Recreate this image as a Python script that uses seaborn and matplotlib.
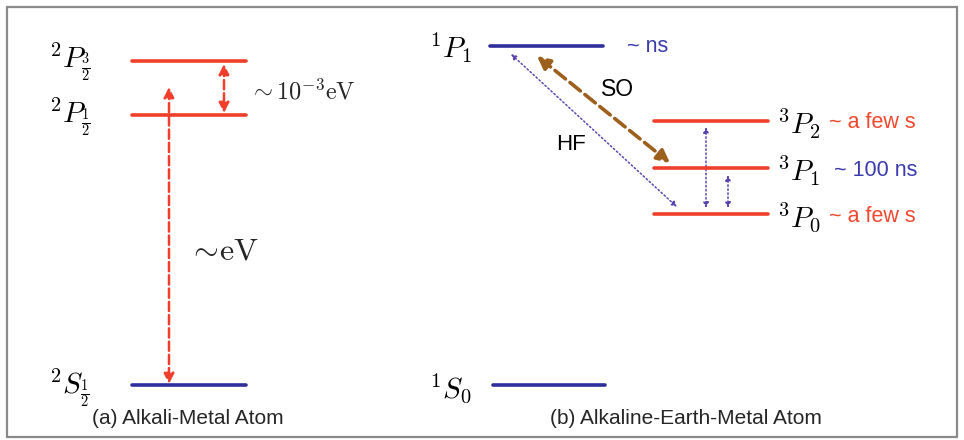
import numpy as np
import pandas as pd
import matplotlib
matplotlib.use("Agg")
import matplotlib.pyplot as plt
from matplotlib.patches import Rectangle, FancyArrowPatch
import seaborn as sns

# Уровни энергии (координаты в пикселях рисунка)
level_names = ["2P32", "2P12", "2S12", "1P1", "3P2", "3P1", "3P0", "1S0"]
level_x0 = [132, 132, 132, 490, 654, 654, 654, 493]
level_x1 = [246, 246, 246, 603, 768, 768, 768, 605]
level_y = [61, 115, 385, 46, 121, 168, 214, 385]
level_kind = ["red", "red", "blue", "blue", "red", "red", "red", "blue"]

level_labels = [r"$^2P_{\frac{3}{2}}$", r"$^2P_{\frac{1}{2}}$", r"$^2S_{\frac{1}{2}}$",
                r"$^1P_1$", r"$^3P_2$", r"$^3P_1$", r"$^3P_0$", r"$^1S_0$"]
label_x = [49, 49, 49, 429, 777, 777, 777, 429]
label_y = [62, 117, 388, 48, 124, 171, 217, 388]

# Времена жизни
life_text = ["~ ns", "~ a few s", "~ 100 ns", "~ a few s"]
life_x = [627, 829, 834, 829]
life_y = [46, 123, 170, 216]
life_kind = ["blue", "red", "blue", "red"]

# Стрелки: начало, конец, стиль
arr_x0 = [224, 169, 537, 511, 706, 728]
arr_y0 = [64, 87, 56, 54, 127, 175]
arr_x1 = [224, 169, 670, 677, 706, 728]
arr_y1 = [113, 384, 163, 207, 208, 208]
arr_kind = ["red", "red", "brown", "purple", "purple", "purple"]
arr_ls = ["--", "--", "--", ":", ":", ":"]
arr_lw = [1.8, 1.8, 2.6, 1.1, 1.1, 1.1]
arr_head = [15, 15, 19, 8, 8, 8]

colors = {"red": "#ef3e2a", "blue": "#2f2f9c", "brown": "#9c5f1c", "purple": "#5b43b0"}
text_colors = {"red": "#f0482f", "blue": "#3b3bae"}

sns.set_theme(style="white")
plt.rcParams["mathtext.fontset"] = "cm"
plt.rcParams["font.family"] = ["Liberation Sans", "DejaVu Sans"]

fig = plt.figure(figsize=(9.64, 4.40), dpi=100)
ax = fig.add_axes([0, 0, 1, 1])
ax.set_xlim(0, 964)
ax.set_ylim(440, 0)
ax.axis("off")

# рамка
ax.add_patch(Rectangle((7, 7), 950, 430, fill=False, edgecolor="#8a8a8a", lw=1.6))

# уровни через seaborn
rows = []
for n, a, b, y, k in zip(level_names, level_x0, level_x1, level_y, level_kind):
    rows.append({"level": n, "x": a, "y": y, "kind": k})
    rows.append({"level": n, "x": b, "y": y, "kind": k})
df = pd.DataFrame(rows)
sns.lineplot(data=df, x="x", y="y", units="level", hue="kind", estimator=None,
             palette=colors, lw=2.6, legend=False, ax=ax, sort=False)
ax.set_xlim(0, 964)
ax.set_ylim(440, 0)

for t, x, y in zip(level_labels, label_x, label_y):
    ax.text(x, y, t, fontsize=21, ha="left", va="center", color="black")

for t, x, y, k in zip(life_text, life_x, life_y, life_kind):
    ax.text(x, y, t, fontsize=15.5, ha="left", va="center", color=text_colors[k])

# стрелки
for x0, y0, x1, y1, k, ls, lw, hs in zip(arr_x0, arr_y0, arr_x1, arr_y1,
                                         arr_kind, arr_ls, arr_lw, arr_head):
    ax.add_patch(FancyArrowPatch((x0, y0), (x1, y1), arrowstyle="<|-|>",
                                 mutation_scale=hs, color=colors[k], lw=lw,
                                 linestyle=ls, shrinkA=0, shrinkB=0))

ax.text(249, 92, r"$\sim 10^{-3}\mathrm{eV}$", fontsize=17.5, ha="left", va="center")
ax.text(188, 252, r"$\sim\!\mathrm{eV}$", fontsize=23, ha="left", va="center")
ax.text(618, 90, "SO", fontsize=16.5, ha="center", va="center", color="black")
ax.text(571, 144, "HF", fontsize=16, ha="center", va="center", color="black")

ax.text(188, 419, "(a) Alkali-Metal Atom", fontsize=15, ha="center", va="center")
ax.text(686, 419, "(b) Alkaline-Earth-Metal Atom", fontsize=15, ha="center", va="center")

fig.savefig("out.png", dpi=100)
